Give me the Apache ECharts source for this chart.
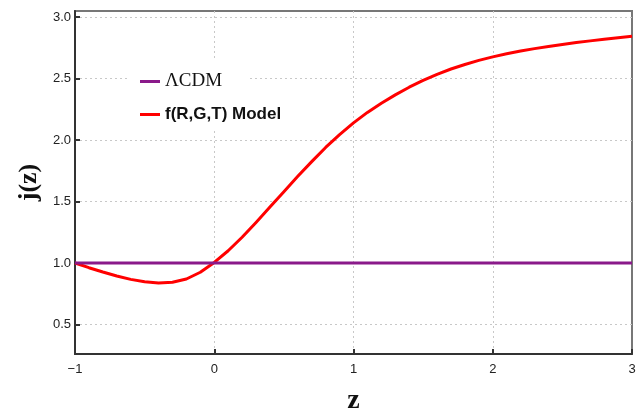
<!DOCTYPE html>
<html>
<head>
<meta charset="utf-8">
<script src="https://cdn.jsdelivr.net/npm/echarts@6/dist/echarts.min.js"></script>
<style>
  html, body { margin: 0; padding: 0; background: #fff; }
  #chart { width: 643px; height: 413px; }
</style>
</head>
<body>
<div id="chart"></div>
<script>
// Redshift samples and jerk parameter j(z)
const zValues = [-1.0, -0.9, -0.8, -0.7, -0.6, -0.5, -0.4, -0.3, -0.2, -0.1,
  0.0, 0.1, 0.2, 0.3, 0.4, 0.5, 0.6, 0.7, 0.8, 0.9,
  1.0, 1.1, 1.2, 1.3, 1.4, 1.5, 1.6, 1.7, 1.8, 1.9,
  2.0, 2.1, 2.2, 2.3, 2.4, 2.5, 2.6, 2.7, 2.8, 2.9, 3.0];

const jModel = [1.000, 0.962, 0.927, 0.895, 0.867, 0.847, 0.837, 0.843, 0.870, 0.925,
  1.005, 1.100, 1.210, 1.330, 1.455, 1.580, 1.705, 1.825, 1.940, 2.045,
  2.140, 2.225, 2.300, 2.368, 2.430, 2.485, 2.535, 2.578, 2.615, 2.648,
  2.677, 2.702, 2.724, 2.744, 2.762, 2.778, 2.793, 2.807, 2.820, 2.833, 2.845];

const zLcdm = [-1, 3];
const jLcdm = [1, 1];

const seriesNames = ['ΛCDM', 'f(R,G,T) Model'];

const pairs = (xs, ys) => xs.map((x, i) => [x, ys[i]]);

const chart = echarts.init(document.getElementById('chart'));
chart.setOption({
  animation: false,
  backgroundColor: '#fff',
  grid: {
    left: 75, right: 11, top: 11, bottom: 59,
    outerBoundsMode: 'none', containLabel: false,
    show: true, borderColor: '#777', borderWidth: 2, backgroundColor: 'transparent'
  },
  // white panel behind the legend, hiding the grid lines there
  graphic: [{
    type: 'rect', left: 127, top: 58, z: 1, silent: true,
    shape: { width: 120, height: 72 },
    style: { fill: '#fff' }
  }],
  legend: {
    orient: 'vertical',
    left: 127, top: 67,
    padding: [5, 0, 0, 13],
    itemGap: 15,
    itemWidth: 20, itemHeight: 3,
    icon: 'rect',
    data: seriesNames,
    formatter: name => name === 'ΛCDM' ? '{a|ΛCDM}' : '{b|f(R,G,T) Model}',
    textStyle: {
      rich: {
        a: { fontFamily: 'Liberation Serif', fontSize: 19, color: '#111', height: 22 },
        b: { fontFamily: 'Liberation Sans', fontSize: 17, fontWeight: 'bold', color: '#111', height: 22 }
      }
    }
  },
  xAxis: {
    type: 'value', min: -1, max: 3, interval: 1,
    name: 'z', nameLocation: 'middle', nameGap: 33,
    nameTextStyle: { fontFamily: 'Liberation Serif', fontSize: 28, fontWeight: 'bold', color: '#111' },
    axisLine: { onZero: false, lineStyle: { color: '#333', width: 2 } },
    axisTick: { inside: true, length: 5, lineStyle: { color: '#333', width: 2 } },
    axisLabel: {
      color: '#222', fontFamily: 'Liberation Sans', fontSize: 13, margin: 9,
      formatter: v => String(v).replace('-', '\u2212')
    },
    splitLine: { showMinLine: false, showMaxLine: false,
      lineStyle: { color: '#c8c8c8', type: [2, 3], width: 1 } }
  },
  yAxis: {
    type: 'value', min: 0.26, max: 3.05, splitNumber: 5,
    name: 'j(z)', nameLocation: 'middle', nameGap: 33,
    nameTextStyle: { fontFamily: 'Liberation Serif', fontSize: 26, fontWeight: 'bold', color: '#111' },
    axisLine: { onZero: false, lineStyle: { color: '#333', width: 2 } },
    axisTick: { inside: true, length: 5, lineStyle: { color: '#333', width: 2 } },
    axisLabel: {
      color: '#222', fontFamily: 'Liberation Sans', fontSize: 13, margin: 4,
      showMinLabel: false, showMaxLabel: false,
      formatter: v => v.toFixed(1)
    },
    splitLine: { showMinLine: false, showMaxLine: false,
      lineStyle: { color: '#c8c8c8', type: [2, 3], width: 1 } }
  },
  series: [
    {
      name: seriesNames[0], type: 'line', data: pairs(zLcdm, jLcdm),
      showSymbol: false, symbol: 'none',
      lineStyle: { color: '#8a1a8a', width: 3 }, itemStyle: { color: '#8a1a8a' }, z: 3
    },
    {
      name: seriesNames[1], type: 'line', data: pairs(zValues, jModel),
      showSymbol: false, symbol: 'none', smooth: false,
      lineStyle: { color: '#ff0000', width: 3, join: 'round' }, itemStyle: { color: '#ff0000' }, z: 2
    }
  ]
});
</script>
</body>
</html>
